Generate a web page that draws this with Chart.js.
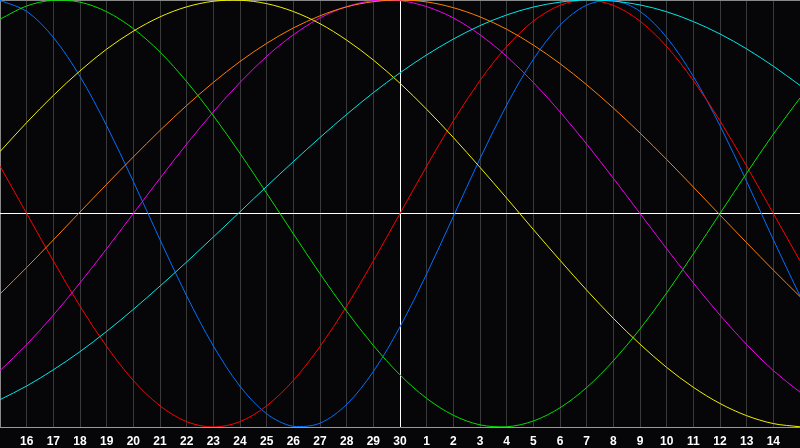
<!DOCTYPE html>
<html>
<head>
<meta charset="utf-8">
<script src="https://cdn.jsdelivr.net/npm/chart.js@4/dist/chart.umd.min.js"></script>
<style>
html,body{margin:0;padding:0;background:#060608;}
#c{display:block;}
</style>
</head>
<body>
<canvas id="c" width="800" height="448"></canvas>
<script>
// Day labels (15th of one month to 15th of the next)
const days = ['15','16','17','18','19','20','21','22','23','24','25','26','27','28','29','30',
              '1','2','3','4','5','6','7','8','9','10','11','12','13','14','15'];

// Series values (-1 .. 1)
const red = [0.222, 0, -0.222, -0.434, -0.623, -0.782, -0.901, -0.975, -1, -0.975, -0.901, -0.782, -0.623, -0.434, -0.222, 0,
             0.222, 0.434, 0.623, 0.782, 0.901, 0.975, 1, 0.975, 0.901, 0.782, 0.623, 0.434, 0.222, 0, -0.222];
const blue = [0.998, 0.947, 0.825, 0.642, 0.411, 0.150, -0.123, -0.386, -0.620, -0.809, -0.938, -0.997, -0.982, -0.894, -0.740, -0.531,
              -0.283, -0.014, 0.257, 0.508, 0.722, 0.882, 0.976, 0.998, 0.947, 0.825, 0.642, 0.411, 0.150, -0.123, -0.386];
const green = [0.910, 0.972, 0.999, 0.990, 0.945, 0.866, 0.756, 0.618, 0.458, 0.282, 0.095, -0.095, -0.282, -0.458, -0.618, -0.756,
               -0.866, -0.945, -0.990, -0.999, -0.972, -0.910, -0.815, -0.690, -0.541, -0.372, -0.189, 0, 0.189, 0.372, 0.541];
const yellow = [0.290, 0.426, 0.553, 0.668, 0.770, 0.854, 0.921, 0.968, 0.994, 0.999, 0.983, 0.946, 0.889, 0.812, 0.719, 0.610,
                0.488, 0.356, 0.216, 0.072, -0.075, -0.219, -0.359, -0.491, -0.612, -0.721, -0.814, -0.890, -0.947, -0.984, -0.999];
const magenta = [-0.736, -0.614, -0.476, -0.325, -0.165, 0, 0.165, 0.325, 0.476, 0.614, 0.736, 0.837, 0.916, 0.969, 0.997, 0.997,
                 0.969, 0.916, 0.837, 0.736, 0.614, 0.476, 0.325, 0.165, 0, -0.165, -0.325, -0.476, -0.614, -0.736, -0.837];
const orange = [-0.377, -0.253, -0.124, 0.007, 0.137, 0.265, 0.389, 0.506, 0.614, 0.712, 0.797, 0.869, 0.926, 0.968, 0.992, 1.0,
                0.991, 0.964, 0.921, 0.863, 0.789, 0.702, 0.603, 0.494, 0.377, 0.253, 0.124, -0.007, -0.137, -0.265, -0.389];
const cyan = [-0.872, -0.808, -0.732, -0.647, -0.552, -0.449, -0.340, -0.227, -0.110, 0.008, 0.127, 0.243, 0.356, 0.464, 0.566, 0.659,
              0.743, 0.817, 0.880, 0.930, 0.967, 0.990, 1.0, 0.995, 0.977, 0.945, 0.899, 0.841, 0.771, 0.690, 0.600];

const series = [
  {data: cyan, color: '#00e8e8'},
  {data: yellow, color: '#f0f000'},
  {data: orange, color: '#ff8000'},
  {data: magenta, color: '#f000f0'},
  {data: green, color: '#00e000'},
  {data: red, color: '#ff0000'},
  {data: blue, color: '#0070ff'}
];

new Chart(document.getElementById('c'), {
  type: 'line',
  data: {
    labels: days,
    datasets: series.map(s => ({
      data: s.data,
      borderColor: s.color,
      borderWidth: 1,
      pointRadius: 0,
      tension: 0.33,
      fill: false
    }))
  },
  options: {
    responsive: false,
    animation: false,
    devicePixelRatio: 1,
    layout: {padding: 0},
    plugins: {legend: {display: false}, tooltip: {enabled: false}},
    scales: {
      x: {
        offset: false,
        grid: {
          drawTicks: false,
          color: (ctx) => ctx.index === 15 ? '#ffffff' : (ctx.index === 0 || ctx.index === 30 ? '#888888' : '#3a3a3a'),
          lineWidth: 1
        },
        border: {display: true, color: '#999999'},
        ticks: {
          autoSkip: false,
          maxRotation: 0,
          padding: 7,
          color: '#ffffff',
          font: {family: 'Liberation Sans', weight: 'bold', size: 12},
          callback: (v, i) => (i === 0 || i === 30) ? '' : days[i]
        },
        afterFit: (s) => { s.height = 21; s.paddingLeft = 0; s.paddingRight = 0; }
      },
      y: {
        min: -1, max: 1,
        ticks: {display: false, stepSize: 1},
        grid: {
          drawTicks: false,
          color: (ctx) => ctx.tick.value === 0 ? '#ffffff' : (ctx.tick.value === 1 ? '#888888' : 'rgba(0,0,0,0)')
        },
        border: {display: false},
        afterFit: (s) => { s.width = 0; s.paddingTop = 0; s.paddingBottom = 0; }
      }
    }
  }
});
</script>
</body>
</html>
